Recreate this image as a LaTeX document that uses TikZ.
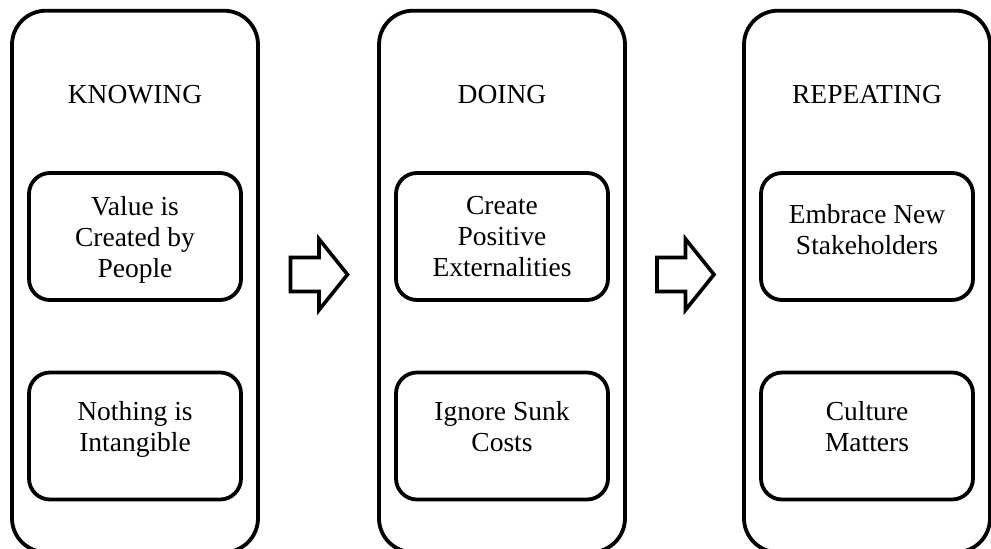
\documentclass[tikz,border=0pt]{standalone}
\usepackage{fontspec}
\setmainfont{Liberation Serif}
\usetikzlibrary{calc}
\begin{document}
\begin{tikzpicture}[x=1pt,y=-1pt,
  outerbox/.style={draw, line width=3.8pt, rounded corners=34pt, minimum width=246pt, minimum height=541.5pt, inner sep=0pt},
  innerbox/.style={draw, line width=3.8pt, rounded corners=21pt, minimum width=212pt, minimum height=127pt, inner sep=0pt},
  lbl/.style={font=\fontsize{27.5}{31}\selectfont, align=center, inner sep=0pt, anchor=north},
  blockarrow/.style={draw, line width=3.6pt, miter limit=10}]
\useasboundingbox (0,0) rectangle (991,549);

% outer columns
\node[outerbox] (k) at (135,281.45) {};
\node[outerbox] (d) at (502,281.45) {};
\node[outerbox] (r) at (867,281.45) {};

% titles
\node[lbl] (kt) at (135,85.5) {KNOWING};
\node[lbl] (dt) at (502,85.5) {DOING};
\node[lbl] (rt) at (867,85.5) {REPEATING};

% inner boxes
\node[innerbox] (k1) at (135,236.5) {};
\node[innerbox] (k2) at (135,436) {};
\node[innerbox] (d1) at (502,236.5) {};
\node[innerbox] (d2) at (502,436) {};
\node[innerbox] (r1) at (867,236.5) {};
\node[innerbox] (r2) at (867,436) {};

% inner texts
\node[lbl] (k1t) at (135,196.4) {Value is\\Created by\\People};
\node[lbl] (k2t) at (135,401) {Nothing is\\Intangible};
\node[lbl] (d1t) at (502,196.4) {Create\\Positive\\Externalities};
\node[lbl] (d2t) at (502,401) {Ignore Sunk\\Costs};
\node[lbl] (r1t) at (867,204.2) {Embrace New\\Stakeholders};
\node[lbl] (r2t) at (867,401.5) {Culture\\Matters};

% block arrows
\coordinate (a1) at (290.5,274.5);
\coordinate (a2) at (657,274.5);
\foreach \a in {a1,a2}{
  \draw[blockarrow] ($(\a)+(0,-17)$) -- ++(28.5,0) -- ++(0,-18.5) -- ($(\a)+(57,0)$)
    -- ($(\a)+(28.5,35.5)$) -- ++(0,-18.5) -- ($(\a)+(0,17)$) -- cycle;
}
\end{tikzpicture}
\end{document}
